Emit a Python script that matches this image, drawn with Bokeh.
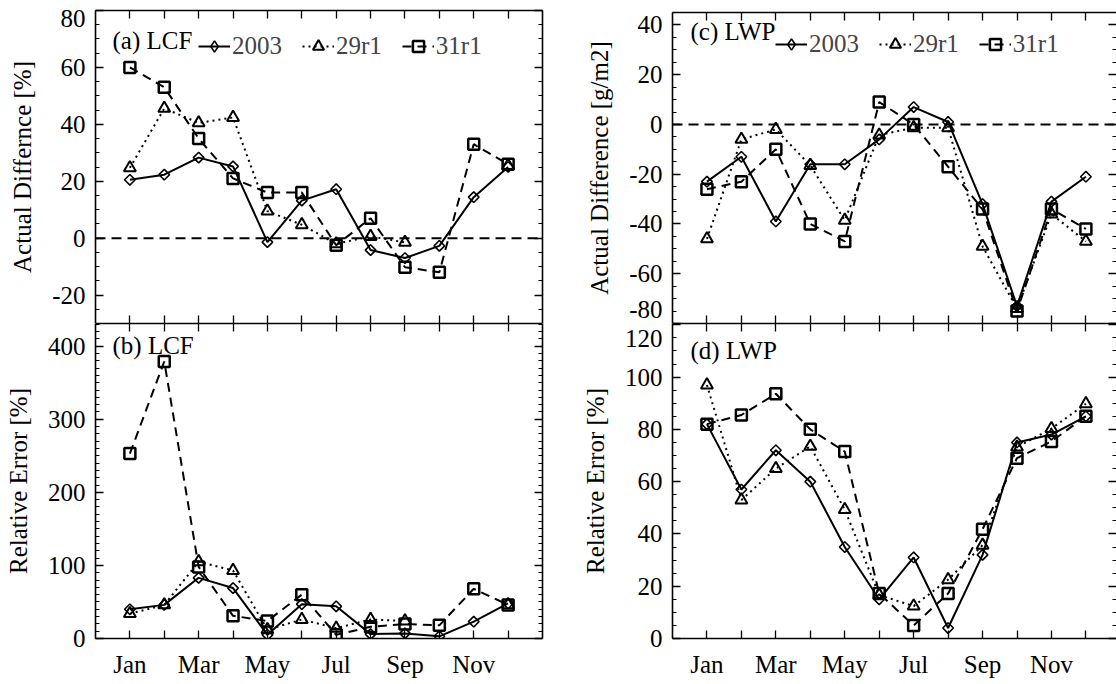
import numpy as np
from bokeh.plotting import figure
from bokeh.models import (LinearAxis, FixedTicker, Range1d, Span, Label, Legend,
                          LegendItem, CustomLabelingPolicy)
from bokeh.layouts import row, column
from bokeh.embed import file_html
from bokeh.resources import INLINE

nan = float("nan")

months = list(range(1, 13))
month_names = ["Jan", "", "Mar", "", "May", "", "Jul", "", "Sep", "", "Nov", ""]
series_names = ["2003", "29r1", "31r1"]

# (a) LCF actual difference [%]
lcf_diff_2003 = [20.5, 22.3, 28.3, 25.2, -1.4, 13.2, 17.2, -4.2, -7.0, -2.7, 14.4, 25.0]
lcf_diff_29r1 = [24.7, 45.6, 40.5, 42.4, 9.5, 4.7, -2.0, 0.6, -1.5, nan, nan, 25.5]
lcf_diff_31r1 = [60.0, 53.0, 35.0, 21.0, 16.0, 16.0, -2.5, 7.0, -10.2, -12.0, 33.0, 26.0]

# (b) LCF relative error [%]
lcf_rel_2003 = [40, 46, 83, 69, 5, 47, 44, 6, 7, 3, 23, 48]
lcf_rel_29r1 = [34, 46, 105, 93, 12, 26, 14, 26, 24, nan, nan, 46]
lcf_rel_31r1 = [253, 379, 98, 31, 24, 60, 5, 16, 20, 18, 68, 46]

# (c) LWP actual difference [g/m2]
lwp_diff_2003 = [-23, -13, -39, -16, -16, -6, 7, 1, -32, -73, -31, -21]
lwp_diff_29r1 = [-46, -6, -2, -16.5, -38.5, -4.3, -1.3, -1.3, -49, -74, -36, -47]
lwp_diff_31r1 = [-26, -23, -10, -40, -47, 9, 0, -17, -34, -75, -34, -42]

# (d) LWP relative error [%]
lwp_rel_2003 = [82, 57, 72, 60, 35, 15, 31, 4, 32, 75, 78, 85]
lwp_rel_29r1 = [97, 53, 65, 73.5, 49.3, 16.6, 12.4, 22.5, 35.7, 73.2, 80.3, 89.8]
lwp_rel_31r1 = [82, 85.5, 93.6, 80, 71.5, 17.2, 5, 17.2, 41.8, 69, 75.4, 85]

# y axis ticks and tick labels
ticks_a = [-20, 0, 20, 40, 60, 80]
ticks_b = [0, 100, 200, 300, 400]
ticks_c = [-80, -60, -40, -20, 0, 20, 40]
ticks_d = [0, 20, 40, 60, 80, 100, 120]
minor_a = list(range(-30, 81, 5))
minor_b = list(range(0, 431, 10))
minor_c = list(range(-80, 46, 5))
minor_d = list(range(0, 121, 5))

FONT = "Liberation Serif"
FS = "25px"

STYLES = {
    "2003": dict(dash="solid", marker="square", angle=np.pi / 4, size=7.5, lw=1.6),
    "29r1": dict(dash="2 4", marker="triangle", angle=0.0, size=12, lw=2.0),
    "31r1": dict(dash="9 6", marker="square", angle=0.0, size=11, lw=2.5),
}

NO_LABELS = CustomLabelingPolicy(code="return []")


def ticks_only_axis(ticker, line=True):
    ax = LinearAxis(ticker=ticker)
    ax.major_tick_in = 8
    ax.major_tick_out = 0
    ax.minor_tick_in = 4
    ax.minor_tick_out = 0
    ax.major_tick_line_width = 1.3
    ax.minor_tick_line_width = 1.2
    ax.axis_line_width = 1.6
    ax.axis_line_color = "black" if line else None
    ax.major_tick_line_color = "black"
    ax.minor_tick_line_color = "black"
    ax.major_label_text_font_size = "0px"
    ax.major_label_standoff = 0
    ax.major_label_policy = NO_LABELS
    return ax


def labels_only_axis(positions, texts, title):
    ax = LinearAxis(ticker=FixedTicker(ticks=positions, minor_ticks=[]))
    ax.major_tick_in = 0
    ax.major_tick_out = 0
    ax.major_tick_line_color = None
    ax.minor_tick_line_color = None
    ax.axis_line_color = None
    ax.major_label_overrides = {pos: txt for pos, txt in zip(positions, texts)}
    ax.major_label_text_font = FONT
    ax.major_label_text_font_size = FS
    ax.major_label_text_color = "black"
    ax.major_label_standoff = 10
    ax.axis_label = title
    ax.axis_label_text_font = FONT
    ax.axis_label_text_font_size = FS
    ax.axis_label_text_font_style = "normal"
    ax.axis_label_text_color = "black"
    ax.axis_label_standoff = 13
    return ax


def panel(yr, yticks, yminor, ylabel, series, tag, tag_xy, fw, fh, borders,
          x_end, bottom_labels, legend_xy=None, right_spine=True, zero=False,
          edge_shift=None):
    bl, br, bt, bb = borders
    p = figure(frame_width=fw, frame_height=fh,
               x_range=Range1d(0, x_end), y_range=Range1d(*yr),
               output_backend="svg", toolbar_location=None,
               x_axis_location=None, y_axis_location=None,
               min_border_left=bl, min_border_right=br,
               min_border_top=bt, min_border_bottom=bb)
    p.outline_line_color = None
    p.background_fill_color = "white"
    p.border_fill_color = "white"
    p.xgrid.grid_line_color = None
    p.ygrid.grid_line_color = None

    yt = FixedTicker(ticks=yticks, minor_ticks=yminor)
    xt = FixedTicker(ticks=months, minor_ticks=[])

    # tick marks next to the frame, the labels just outside them
    p.add_layout(ticks_only_axis(yt), "left")
    # a label sitting on the frame edge is moved inward so it stays readable
    px_per_unit = fh / (yr[1] - yr[0])
    pos = list(yticks)
    if edge_shift is not None:
        val, shift_px = edge_shift
        i = pos.index(val)
        pos[i] = val + shift_px / px_per_unit
    p.add_layout(labels_only_axis(pos, [str(v) for v in yticks], ylabel), "left")

    p.add_layout(ticks_only_axis(yt, line=right_spine), "right")
    p.add_layout(ticks_only_axis(xt), "above")
    bottom = ticks_only_axis(xt)
    if bottom_labels:
        bottom.major_label_policy = CustomLabelingPolicy(code="return indices")
        bottom.major_label_overrides = {m: n for m, n in zip(months, month_names)}
        bottom.major_label_text_font = FONT
        bottom.major_label_text_font_size = FS
        bottom.major_label_text_color = "black"
        bottom.major_label_standoff = 12
    p.add_layout(bottom, "below")

    if zero:
        p.add_layout(Span(location=0, dimension="width", line_color="black",
                          line_width=2, line_dash="10 6"))

    items = []
    for name, vals in zip(series_names, series):
        st = STYLES[name]
        r1 = p.line(months, vals, line_color="black", line_width=2,
                    line_dash=st["dash"])
        r2 = p.scatter(months, vals, marker=st["marker"], angle=st["angle"],
                       size=st["size"], line_color="black", line_width=st["lw"],
                       fill_color=None)
        rends = [r1, r2]
        if name == "2003":
            # legend glyph: an upright diamond (angle is not applied in legends)
            r3 = p.scatter(months, vals, marker="diamond", size=12,
                           line_color="black", line_width=1.6, fill_color=None,
                           visible=False)
            rends = [r1, r3]
        items.append(LegendItem(label=name, renderers=rends))

    if legend_xy is not None:
        lg = Legend(items=items, orientation="horizontal", location=legend_xy,
                    border_line_color=None, background_fill_alpha=0,
                    inactive_fill_alpha=0,
                    label_text_font=FONT, label_text_font_size=FS,
                    glyph_width=32, glyph_height=28, label_standoff=2,
                    spacing=20, padding=0, margin=0)
        p.add_layout(lg)

    p.add_layout(Label(x=tag_xy[0], y=tag_xy[1], x_units="screen", y_units="screen",
                       text=tag, text_font=FONT, text_font_size=FS,
                       text_color="black", text_baseline="alphabetic"))
    return p


LFW = 447          # left frame width
RFW = 444          # right frame width
MONTH_PX = 34.45   # pixel spacing of months on the right panels

pa = panel((-30, 80), ticks_a, minor_a, "Actual Differnce [%]",
           [lcf_diff_2003, lcf_diff_29r1, lcf_diff_31r1], "(a) LCF", (17, 283),
           LFW, 313, (95, 33, 10, 0), 13.0, False, legend_xy=(103, 263),
           zero=True, edge_shift=(80, -7.5))
pb = panel((0, 431), ticks_b, minor_b, "Relative Error [%]",
           [lcf_rel_2003, lcf_rel_29r1, lcf_rel_31r1], "(b) LCF", (17, 293),
           LFW, 315, (95, 33, 0, 46), 13.0, True)
pc = panel((-80, 45), ticks_c, minor_c, "Actual Difference [g/m2]",
           [lwp_diff_2003, lwp_diff_29r1, lwp_diff_31r1], "(c) LWP", (18, 292),
           RFW, 311, (97, 0, 12, 0), RFW / MONTH_PX, False, legend_xy=(103, 265),
           right_spine=False, zero=True, edge_shift=(-80, 14.5))
pd_ = panel((0, 120.5), ticks_d, minor_d, "Relative Error [%]",
            [lwp_rel_2003, lwp_rel_29r1, lwp_rel_31r1], "(d) LWP", (18, 288),
            RFW, 315, (97, 0, 0, 46), RFW / MONTH_PX, True, right_spine=False,
            edge_shift=(120, -13.5))

layout = row(column(pa, pb), column(pc, pd_))

open("out.html", "w").write(file_html(layout, INLINE))
